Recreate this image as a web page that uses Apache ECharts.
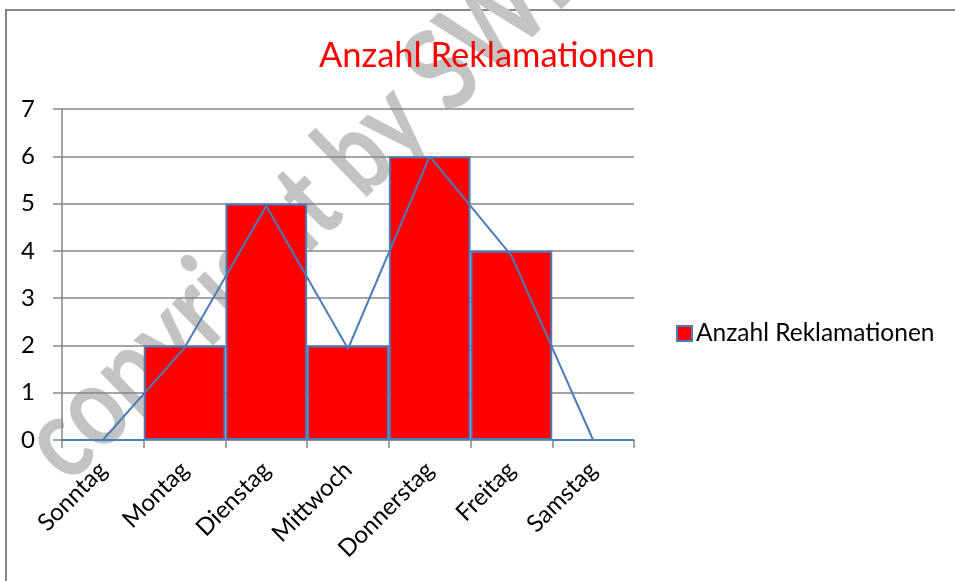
<!DOCTYPE html>
<html lang="de">
<head>
    <meta charset="UTF-8">
    <title>Anzahl Reklamationen</title>
    <script src="https://cdn.jsdelivr.net/npm/echarts@6/dist/echarts.min.js"></script>
    <style>
        html, body { margin: 0; padding: 0; background: #fff; }
        #chart_show { width: 955px; height: 581px; }
    </style>
</head>
<body>
<div id="chart_show"></div>

<script type="text/javascript">
	// Daten
	var tage = ['Sonntag', 'Montag', 'Dienstag', 'Mittwoch', 'Donnerstag', 'Freitag', 'Samstag'];
	var reklamationen = [0, 2, 5, 2, 6, 4, 0];
	// Verbindungslinie (von Hand gezeichnet, leicht abweichend)
	var linie = [0, 1.95, 4.95, 1.93, 6, 3.9, 0];
	var yTicks = [0, 7, 1]; // min, max, interval

	var chart = echarts.init(document.getElementById('chart_show'));
	var schrift = 'Lato, "Open Sans", sans-serif';

	var option = {
		animation: false,
		title: {
			text: 'Anzahl Reklamationen',
			left: 314,
			top: 33,
			textStyle: {
				color: '#ff0000',
				fontFamily: schrift,
				fontWeight: 'normal',
				fontSize: 34.5
			}
		},
		legend: {
			data: ['Anzahl Reklamationen'],
			left: 676,
			top: 321,
			padding: 0,
			icon: 'rect',
			itemWidth: 15,
			itemHeight: 15,
			itemGap: 6,
			itemStyle: {
				color: '#ff0000',
				borderColor: '#4a7ebb',
				borderWidth: 2
			},
			textStyle: {
				color: '#000',
				fontFamily: schrift,
				fontSize: 24.5,
				padding: [0, 0, 0, -1]
			}
		},
		grid: {
			left: 62,
			right: 321,
			top: 109,
			bottom: 141
		},
		xAxis: {
			type: 'category',
			data: tage,
			boundaryGap: true,
			axisLine: { lineStyle: { color: '#868686', width: 1.5 } },
			axisTick: { show: true, length: 8, alignWithLabel: false, lineStyle: { color: '#868686', width: 1.5 } },
			axisLabel: {
				rotate: 45,
				margin: 26,
				color: '#000',
				fontFamily: schrift,
				fontSize: 24
			}
		},
		yAxis: {
			type: 'value',
			min: yTicks[0],
			max: yTicks[1],
			interval: yTicks[2],
			axisLine: { show: true, lineStyle: { color: '#868686', width: 1.5 } },
			axisTick: { show: true, length: 9, lineStyle: { color: '#868686', width: 1.5 } },
			splitLine: { lineStyle: { color: '#868686', width: 1.5 } },
			axisLabel: {
				margin: 27,
				color: '#000',
				fontFamily: schrift,
				fontSize: 24
			}
		},
		graphic: [
			{
				// Rahmen
				type: 'rect',
				z: -10,
				shape: { x: 6, y: 10, width: 2000, height: 2000 },
				style: { fill: 'none', stroke: '#868686', lineWidth: 2 },
				silent: true
			},
			{
				// Wasserzeichen
				type: 'text',
				z: -5,
				x: 296,
				y: 214,
				rotation: 44 * Math.PI / 180,
				scaleX: 0.8,
				silent: true,
				style: {
					text: 'copyright by SWI',
					fill: '#c3c3c3',
					font: 'bold 115px Lato, sans-serif',
					align: 'center',
					verticalAlign: 'middle'
				}
			}
		],
		series: [
			{
				name: 'Anzahl Reklamationen',
				type: 'bar',
				barCategoryGap: '0%',
				data: reklamationen,
				itemStyle: {
					color: '#ff0000',
					borderColor: '#4a7ebb',
					borderWidth: 2
				}
			},
			{
				name: 'Linie',
				type: 'line',
				data: linie,
				symbol: 'none',
				lineStyle: { color: '#4a7ebb', width: 2 },
				z: 3
			}
		]
	};
	chart.setOption(option);
</script>
</body>
</html>
